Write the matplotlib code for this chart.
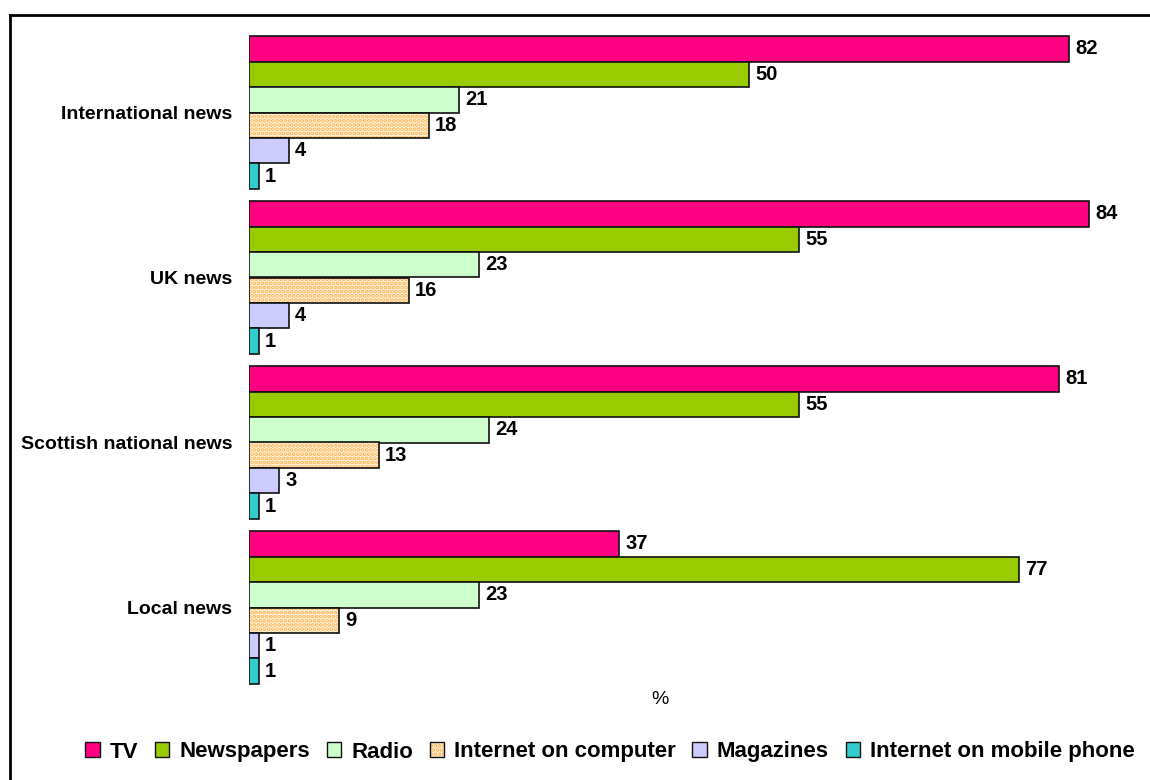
import numpy as np
import matplotlib.pyplot as plt
from matplotlib.patches import Patch

plt.rcParams['font.family'] = ['Liberation Sans', 'DejaVu Sans']
plt.rcParams['hatch.linewidth'] = 2.0

# Categories (top to bottom) and media sources
categories = ['International news', 'UK news', 'Scottish national news', 'Local news']
sources = ['TV', 'Newspapers', 'Radio', 'Internet on computer', 'Magazines',
           'Internet on mobile phone']

tv = [82, 84, 81, 37]
newspapers = [50, 55, 55, 77]
radio = [21, 23, 24, 23]
internet_computer = [18, 16, 13, 9]
magazines = [4, 4, 3, 1]
internet_mobile = [1, 1, 1, 1]

series = [tv, newspapers, radio, internet_computer, magazines, internet_mobile]
colors = ['#FF0080', '#99CC00', '#CCFFCC', '#FFFFFF', '#CCCCFF', '#33CCCC']

fig = plt.figure(figsize=(11.5, 7.8), dpi=100)
ax = fig.add_axes([249 / 1150, 1 - 690 / 780, 900 / 1150, 660 / 780])

y = np.arange(len(categories))
h = 0.1545

for j, (vals, col) in enumerate(zip(series, colors)):
    pos = y + (j - 2.5) * h
    if sources[j] == 'Internet on computer':
        # dotted fill, then a plain outline on top
        ax.barh(pos, vals, height=h, color='#FFF6EC', edgecolor='#FFB347',
                hatch='....', linewidth=0)
        ax.barh(pos, vals, height=h, fill=False, edgecolor='#111111', linewidth=1.2)
    else:
        ax.barh(pos, vals, height=h, color=col, edgecolor='#111111', linewidth=1.2)
    for p, v in zip(pos, vals):
        ax.text(v + 0.6, p, str(v), va='center', ha='left',
                fontsize=14.5, fontweight='bold')

ax.set_xlim(0, 90)
ax.set_ylim(len(categories) - 0.5, -0.5)
ax.set_yticks(y)
ax.set_yticklabels(categories, fontsize=14, fontweight='bold')
ax.tick_params(axis='y', length=0, pad=12)
ax.set_xticks([])
for s in ax.spines.values():
    s.set_visible(False)

fig.text(660 / 1150, 1 - 699 / 780, '%', ha='center', va='center', fontsize=14)

# Legend
handles = []
for j, col in enumerate(colors):
    if sources[j] == 'Internet on computer':
        handles.append((Patch(facecolor='#FFF6EC', edgecolor='#FFB347', hatch='....', linewidth=0),
                        Patch(fill=False, edgecolor='#111111')))
    else:
        handles.append(Patch(facecolor=col, edgecolor='#111111'))
fig.legend(handles, sources, loc='center', bbox_to_anchor=(610 / 1150, 1 - 752 / 780),
           ncol=6, frameon=False, prop={'weight': 'bold', 'size': 16},
           handlelength=0.65, handleheight=0.65, handletextpad=0.45, columnspacing=0.75)

# outer frame (open at the bottom and right)
fig.add_artist(plt.Line2D([10 / 1150, 10 / 1150], [0, 1 - 15 / 780],
                          transform=fig.transFigure, color='black', linewidth=2))
fig.add_artist(plt.Line2D([10 / 1150, 1], [1 - 15 / 780, 1 - 15 / 780],
                          transform=fig.transFigure, color='black', linewidth=2))

fig.savefig('out.png', dpi=100)
